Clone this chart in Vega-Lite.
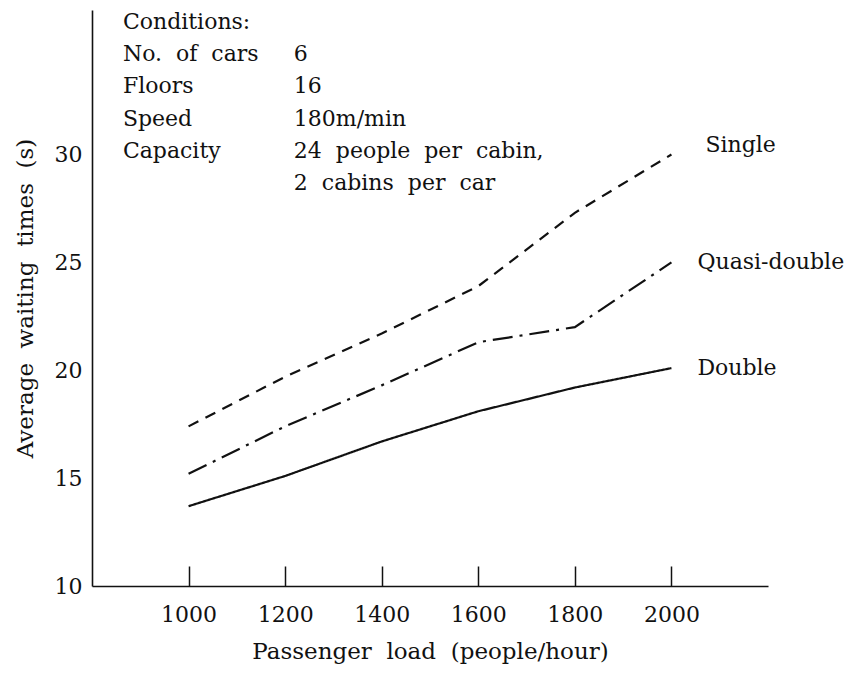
{
  "$schema": "https://vega.github.io/schema/vega-lite/v6.json",
  "width": 676,
  "height": 576,
  "autosize": {"type": "none"},
  "padding": {"left": 92, "top": 10, "right": 85, "bottom": 91},
  "background": "white",
  "config": {
    "view": {"stroke": null},
    "font": "DejaVu Serif",
    "text": {"font": "DejaVu Serif", "fontSize": 22, "color": "#111"},
    "axis": {"grid": false, "domainColor": "#111", "domainWidth": 1.6, "labelColor": "#111", "titleColor": "#111", "labelFont": "DejaVu Serif", "titleFont": "DejaVu Serif", "labelFontSize": 22, "titleFontSize": 23, "titleFontWeight": "normal"}
  },
  "datasets": {
    "series": [
      {"load": 1000, "time": 17.4, "type": "Single"},
      {"load": 1200, "time": 19.7, "type": "Single"},
      {"load": 1400, "time": 21.7, "type": "Single"},
      {"load": 1600, "time": 23.9, "type": "Single"},
      {"load": 1800, "time": 27.3, "type": "Single"},
      {"load": 2000, "time": 30.0, "type": "Single"},
      {"load": 1000, "time": 15.2, "type": "Quasi-double"},
      {"load": 1200, "time": 17.4, "type": "Quasi-double"},
      {"load": 1400, "time": 19.3, "type": "Quasi-double"},
      {"load": 1600, "time": 21.3, "type": "Quasi-double"},
      {"load": 1800, "time": 22.0, "type": "Quasi-double"},
      {"load": 2000, "time": 25.0, "type": "Quasi-double"},
      {"load": 1000, "time": 13.7, "type": "Double"},
      {"load": 1200, "time": 15.1, "type": "Double"},
      {"load": 1400, "time": 16.7, "type": "Double"},
      {"load": 1600, "time": 18.1, "type": "Double"},
      {"load": 1800, "time": 19.2, "type": "Double"},
      {"load": 2000, "time": 20.1, "type": "Double"}
    ],
    "conditions": [
      {"row": 0, "label": "Conditions:", "value": ""},
      {"row": 1, "label": "No.\u00a0 of\u00a0 cars", "value": "6"},
      {"row": 2, "label": "Floors", "value": "\u00a016"},
      {"row": 3, "label": "Speed", "value": "180m/min"},
      {"row": 4, "label": "Capacity", "value": "24\u00a0 people\u00a0 per\u00a0 cabin,"},
      {"row": 5, "label": "", "value": "2\u00a0 cabins\u00a0 per\u00a0 car"}
    ]
  },
  "resolve": {"scale": {"y": "independent"}},
  "layer": [
    {
      "data": {"name": "series"},
      "encoding": {
        "x": {
          "field": "load", "type": "quantitative",
          "scale": {"domain": [800, 2200], "nice": false, "zero": false},
          "axis": {"values": [1000, 1200, 1400, 1600, 1800, 2000], "format": "d", "tickSize": -20, "tickColor": "#111", "tickWidth": 1.5, "labelPadding": 38, "title": "Passenger\u00a0 load\u00a0 (people/hour)", "titlePadding": 15}
        },
        "y": {
          "field": "time", "type": "quantitative",
          "scale": {"domain": [10, 36.7], "nice": false, "zero": false},
          "axis": {"values": [10, 15, 20, 25, 30], "ticks": false, "labelPadding": 10, "title": "Average\u00a0 waiting\u00a0 times\u00a0 (s)", "titlePadding": 17}
        }
      },
      "layer": [
        {
          "mark": {"type": "line", "color": "#111", "strokeWidth": 2.2},
          "encoding": {
            "detail": {"field": "type"},
            "strokeDash": {
              "field": "type", "type": "nominal",
              "scale": {"domain": ["Single", "Quasi-double", "Double"], "range": [[11, 8], [20, 7, 3, 7], [1, 0]]},
              "legend": null
            }
          }
        },
        {
          "transform": [{"filter": "datum.load == 2000 && datum.type == 'Single'"}],
          "mark": {"type": "text", "align": "left", "baseline": "middle", "dx": 34, "dy": -10},
          "encoding": {"text": {"field": "type"}}
        },
        {
          "transform": [{"filter": "datum.load == 2000 && datum.type != 'Single'"}],
          "mark": {"type": "text", "align": "left", "baseline": "middle", "dx": 26},
          "encoding": {
            "text": {"field": "type"},
            "yOffset": {"field": "type", "type": "nominal", "scale": {"domain": ["Quasi-double", "Double"], "range": [-13, 8]}}
          }
        }
      ]
    },
    {
      "data": {"name": "conditions"},
      "encoding": {
        "y": {"field": "row", "type": "quantitative", "scale": {"domain": [-0.37, 17.52], "reverse": true, "nice": false, "zero": false}, "axis": null}
      },
      "layer": [
        {
          "mark": {"type": "text", "align": "left", "baseline": "middle"},
          "encoding": {"x": {"datum": 864}, "text": {"field": "label"}}
        },
        {
          "mark": {"type": "text", "align": "left", "baseline": "middle"},
          "encoding": {"x": {"datum": 1218}, "text": {"field": "value"}}
        }
      ]
    }
  ]
}
